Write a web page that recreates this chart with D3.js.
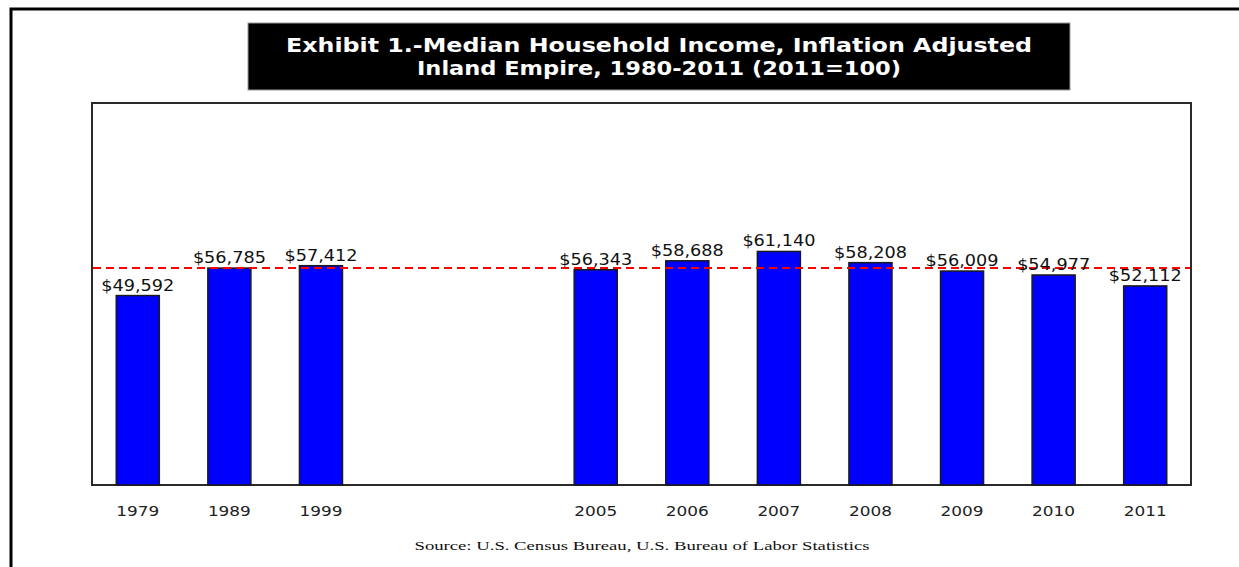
<!DOCTYPE html>
<html>
<head>
<meta charset="utf-8">
<script src="https://cdn.jsdelivr.net/npm/d3@7"></script>
<style>
  html, body { margin: 0; padding: 0; background: #fff; }
  svg { display: block; }
</style>
</head>
<body>
<svg id="chart" width="1239" height="567"></svg>
<script>
// Median household income by year (inflation adjusted, 2011 dollars).
// Empty slots keep the gap between the census years and the annual series.
const categories = ["1979", "1989", "1999", "", "", "2005", "2006", "2007", "2008", "2009", "2010", "2011"];
const incomes    = [49592, 56785, 57412, null, null, 56343, 58688, 61140, 58208, 56009, 54977, 52112];
// Reference level drawn as a dashed line (the 1989 median)
const referenceIncome = [56785];
const yDomain = [0, 100000];
const titleLines = [
  "Exhibit 1.-Median Household Income, Inflation Adjusted",
  "Inland Empire, 1980-2011 (2011=100)"
];
const sourceNote = "Source:  U.S. Census Bureau, U.S. Bureau of Labor Statistics";

const svg = d3.select("#chart");
const W = 1239, H = 567;

svg.append("rect").attr("width", W).attr("height", H).attr("fill", "#fff");

// Page frame (runs off the right and bottom edges)
svg.append("rect")
  .attr("x", 11).attr("y", 9)
  .attr("width", W + 40).attr("height", H + 40)
  .attr("fill", "none").attr("stroke", "#000").attr("stroke-width", 3);

// Title block
const titleBox = { x: 248, y: 23, w: 822, h: 67 };
svg.append("rect")
  .attr("x", titleBox.x).attr("y", titleBox.y)
  .attr("width", titleBox.w).attr("height", titleBox.h)
  .attr("fill", "#000").attr("stroke", "#999").attr("stroke-width", 1);

const titleWidths = [746, 484];
const titleBaselines = [52, 75];
svg.append("g").selectAll("text")
  .data(titleLines)
  .join("text")
  .attr("x", titleBox.x + titleBox.w / 2)
  .attr("y", (d, i) => titleBaselines[i])
  .attr("text-anchor", "middle")
  .attr("font-family", "'DejaVu Sans', Verdana, sans-serif")
  .attr("font-weight", "bold")
  .attr("font-size", 19)
  .attr("fill", "#fff")
  .attr("textLength", (d, i) => titleWidths[i])
  .attr("lengthAdjust", "spacingAndGlyphs")
  .text(d => d);

// Plot area
const plot = { left: 92, top: 103, right: 1191, bottom: 485 };

const x = d3.scaleBand()
  .domain(d3.range(categories.length))
  .range([plot.left, plot.right])
  .paddingInner(0.53)
  .paddingOuter(0.265);

const y = d3.scaleLinear()
  .domain(yDomain)
  .range([plot.bottom, plot.top]);

svg.append("rect")
  .attr("x", plot.left).attr("y", plot.top)
  .attr("width", plot.right - plot.left).attr("height", plot.bottom - plot.top)
  .attr("fill", "#fff").attr("stroke", "#2a2a2a").attr("stroke-width", 2);

const data = categories.map((c, i) => ({ i, year: c, value: incomes[i] }))
  .filter(d => d.value != null);

// Bars
svg.append("g").selectAll("rect")
  .data(data)
  .join("rect")
  .attr("x", d => x(d.i))
  .attr("y", d => y(d.value))
  .attr("width", x.bandwidth())
  .attr("height", d => y(0) - y(d.value))
  .attr("fill", "#0000ff")
  .attr("stroke", "#1a1a1a")
  .attr("stroke-width", 1.5);

// Dashed reference line
svg.append("g").selectAll("line")
  .data(referenceIncome)
  .join("line")
  .attr("x1", plot.left + 1).attr("x2", plot.right - 1)
  .attr("y1", d => y(d)).attr("y2", d => y(d))
  .attr("stroke", "#ff0000")
  .attr("stroke-width", 2)
  .attr("stroke-dasharray", "8,5");

// Value labels
const fmt = d3.format("$,");
svg.append("g").selectAll("text")
  .data(data)
  .join("text")
  .attr("x", d => x(d.i) + x.bandwidth() / 2)
  .attr("y", d => y(d.value) - 5)
  .attr("text-anchor", "middle")
  .attr("font-family", "'DejaVu Sans', Verdana, sans-serif")
  .attr("font-size", 16)
  .attr("fill", "#111")
  .attr("textLength", 73)
  .attr("lengthAdjust", "spacingAndGlyphs")
  .text(d => fmt(d.value));

// Category axis
const xAxis = d3.axisBottom(x)
  .tickSize(0)
  .tickPadding(0)
  .tickFormat(i => categories[i]);

const axisG = svg.append("g")
  .attr("transform", `translate(0,${plot.bottom})`)
  .call(xAxis);
axisG.select(".domain").remove();
axisG.selectAll(".tick")
  .filter(i => !categories[i])
  .remove();
axisG.selectAll(".tick text")
  .attr("y", 31)
  .attr("dy", null)
  .attr("font-family", "'DejaVu Sans', Verdana, sans-serif")
  .attr("font-size", 14)
  .attr("fill", "#222")
  .attr("textLength", 43)
  .attr("lengthAdjust", "spacingAndGlyphs");

// Source note
svg.append("text")
  .attr("x", 642).attr("y", 550)
  .attr("text-anchor", "middle")
  .attr("font-family", "'Liberation Serif', 'Times New Roman', serif")
  .attr("font-size", 12.5)
  .attr("fill", "#111")
  .attr("textLength", 455)
  .attr("lengthAdjust", "spacingAndGlyphs")
  .text(sourceNote);
</script>
</body>
</html>
